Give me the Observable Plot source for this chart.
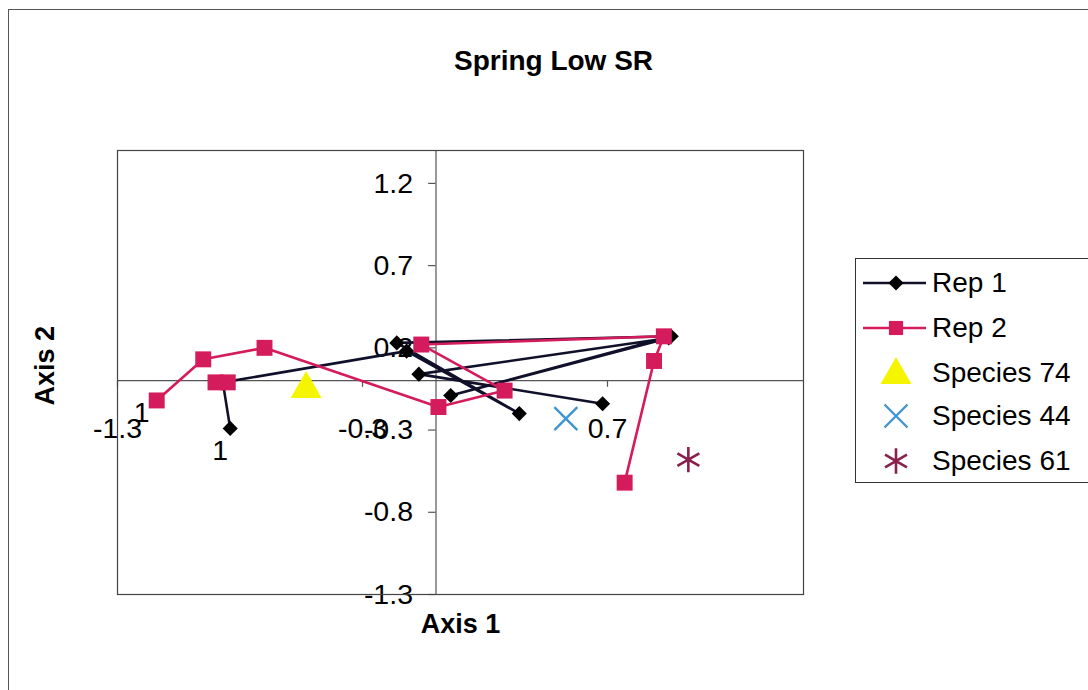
<!DOCTYPE html>
<html>
<head>
<meta charset="utf-8">
<script src="https://cdn.jsdelivr.net/npm/d3@7"></script>
<script src="https://cdn.jsdelivr.net/npm/@observablehq/plot@0.6"></script>
<style>
  html, body { margin: 0; padding: 0; background: #fff; overflow: hidden; width: 1088px; height: 690px; }
  #chart { position: relative; width: 1088px; height: 690px; font-family: "Liberation Sans", Arial, sans-serif; }
  #frame { position: absolute; left: 8px; top: 9px; width: 1110px; height: 720px; border: 1.5px solid #555; box-sizing: border-box; pointer-events: none; }
  #plot { position: absolute; left: 0; top: 0; }
  #legend { position: absolute; left: 855px; top: 258px; width: 260px; height: 225px; border: 1.5px solid #333; background: #fff; box-sizing: border-box; }
  .row { position: absolute; left: 0; height: 40px; width: 260px; }
  .row svg { position: absolute; left: 4px; top: 0; }
  .row span { position: absolute; left: 76px; top: 3px; font-size: 28px; line-height: 34px; color: #000; white-space: nowrap; }
</style>
</head>
<body>
<div id="chart"><div id="frame"></div><div id="plot"></div><div id="legend"></div></div>
<script>
// Ordination scores, Spring Low SR
const rep1X = [-0.84, -0.87, -0.12, 0.34, -0.16, 0.96, 0.06, 0.95, -0.07, 0.68];
const rep1Y = [-0.29, -0.01, 0.18, -0.20, 0.23, 0.27, -0.09, 0.26, 0.04, -0.14];

// null splits the Rep 2 path into two pieces
const rep2X = [-1.14, -0.95, -0.70, 0.01, 0.28, -0.06, 0.93, 0.89, 0.77, null, -0.90, -0.85];
const rep2Y = [-0.12, 0.13, 0.20, -0.16, -0.06, 0.22, 0.27, 0.12, -0.62, null, -0.01, -0.01];

const speciesNames = ["Species 74", "Species 44", "Species 61"];
const speciesX = [-0.53, 0.53, 1.03];
const speciesY = [-0.05, -0.23, -0.48];

const seriesNames = ["Rep 1", "Rep 2"];
const startLabel = "1";

const xTicks = [-1.3, -0.3, 0.7];
const yTicks = [1.2, 0.7, 0.2, -0.3, -0.8, -1.3];

const chartTitle = "Spring Low SR";
const xTitle = "Axis 1";
const yTitle = "Axis 2";

const rep1 = rep1X.map((x, i) => ({x, y: rep1Y[i]}));
const rep2 = rep2X.map((x, i) => ({x, y: rep2Y[i]}));
const species = speciesNames.map((name, i) => ({name, x: speciesX[i], y: speciesY[i]}));

const font = "Liberation Sans, Arial, sans-serif";
const c1 = "#10102a";
const c2 = "#d41c5c";
const cYellow = "#f5f500";
const cBlue = "#3f95d0";
const cMaroon = "#8a1f4c";

const plot = Plot.plot({
  width: 1088,
  height: 690,
  marginLeft: 117,
  marginRight: 285,
  marginTop: 150,
  marginBottom: 96,
  style: {fontFamily: font, background: "transparent"},
  x: {domain: [-1.3, 1.5], axis: null},
  y: {domain: [-1.3, 1.4], axis: null},
  marks: [
    // axes crossing at the origin
    Plot.ruleX([0], {stroke: "#555", strokeWidth: 1.2}),
    Plot.ruleY([0], {stroke: "#555", strokeWidth: 1.2}),
    Plot.ruleY(yTicks, {y: d => d, x1: -0.03, x2: 0, stroke: "#555", strokeWidth: 1.2}),
    Plot.ruleX(xTicks, {x: d => d, y1: -0.04, y2: 0, stroke: "#555", strokeWidth: 1.2}),
    Plot.text(yTicks, {x: 0, y: d => d, text: d => String(d), dx: -23, textAnchor: "end", fontSize: 28.5, fill: "#000"}),
    Plot.text(xTicks, {x: d => d, y: 0, text: d => String(d), dy: 48, fontSize: 28.5, fill: "#000"}),

    // start-point labels
    Plot.text([rep1[0]], {x: "x", y: "y", text: () => startLabel, dx: -10, dy: 22, fontSize: 28.5, fill: "#000"}),
    Plot.text([rep2[0]], {x: "x", y: "y", text: () => startLabel, dx: -15, dy: 12, fontSize: 28.5, fill: "#000"}),

    // Rep 1
    Plot.line(rep1, {x: "x", y: "y", stroke: c1, strokeWidth: 2.6}),
    Plot.dot(rep1, {x: "x", y: "y", symbol: "diamond2", r: 6.8, fill: "#000", stroke: "none"}),

    // Rep 2
    Plot.line(rep2, {x: "x", y: "y", stroke: c2, strokeWidth: 2.6}),
    Plot.dot(rep2, {x: "x", y: "y", symbol: "square", r: 9, fill: c2, stroke: "none"}),

    // species scores
    Plot.dot([species[0]], {x: "x", y: "y", symbol: "triangle", r: 11.5, fill: cYellow, stroke: "none"}),
    Plot.dot([species[1]], {x: "x", y: "y", symbol: "times", r: 10.5, stroke: cBlue, strokeWidth: 2.4, fill: "none"}),
    Plot.dot([species[2]], {x: "x", y: "y", symbol: "asterisk", r: 12, stroke: cMaroon, strokeWidth: 2.6, fill: "none"}),

    Plot.frame({stroke: "#444", strokeWidth: 1.2}),

    // titles
    Plot.text([chartTitle], {frameAnchor: "top", dx: 93, dy: -100, fontSize: 28, fontWeight: "bold", fill: "#000"}),
    Plot.text([xTitle], {frameAnchor: "bottom", dy: 38, fontSize: 27, fontWeight: "bold", fill: "#000"}),
    Plot.text([yTitle], {frameAnchor: "left", dx: -72, dy: 33, rotate: -90, fontSize: 27, fontWeight: "bold", fill: "#000"})
  ]
});
document.getElementById("plot").appendChild(plot);

// legend
const legend = document.getElementById("legend");
const rowTops = [4, 49, 94, 137, 182];
const items = [
  {label: seriesNames[0], kind: "rep1"},
  {label: seriesNames[1], kind: "rep2"},
  {label: speciesNames[0], kind: "tri"},
  {label: speciesNames[1], kind: "times"},
  {label: speciesNames[2], kind: "ast"}
];
items.forEach((it, i) => {
  const row = document.createElement("div");
  row.className = "row";
  row.style.top = rowTops[i] + "px";
  const svg = d3.create("svg").attr("width", 70).attr("height", 40);
  const cy = 20, cx = 36;
  if (it.kind === "rep1" || it.kind === "rep2") {
    const col = it.kind === "rep1" ? c1 : c2;
    svg.append("line").attr("x1", 3).attr("x2", 66).attr("y1", cy).attr("y2", cy).attr("stroke", col).attr("stroke-width", 2.6);
    const sym = it.kind === "rep1" ? d3.symbol(d3.symbolDiamond2, Math.PI * 6.8 * 6.8) : d3.symbol(d3.symbolSquare, Math.PI * 8 * 8);
    svg.append("path").attr("d", sym()).attr("transform", `translate(${cx},${cy})`).attr("fill", it.kind === "rep1" ? "#000" : c2);
  } else if (it.kind === "tri") {
    svg.append("path").attr("d", d3.symbol(d3.symbolTriangle, Math.PI * 11.5 * 11.5)()).attr("transform", `translate(${cx},${cy + 2})`).attr("fill", cYellow);
  } else if (it.kind === "times") {
    svg.append("path").attr("d", d3.symbol(d3.symbolTimes, Math.PI * 10.5 * 10.5)()).attr("transform", `translate(${cx},${cy})`).attr("fill", "none").attr("stroke", cBlue).attr("stroke-width", 2.4);
  } else {
    svg.append("path").attr("d", d3.symbol(d3.symbolAsterisk, Math.PI * 12 * 12)()).attr("transform", `translate(${cx},${cy})`).attr("fill", "none").attr("stroke", cMaroon).attr("stroke-width", 2.6);
  }
  row.appendChild(svg.node());
  const span = document.createElement("span");
  span.textContent = it.label;
  row.appendChild(span);
  legend.appendChild(row);
});
</script>
</body>
</html>
